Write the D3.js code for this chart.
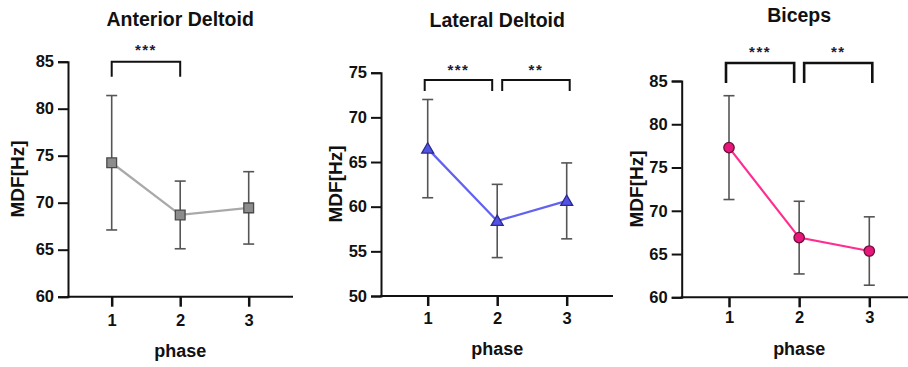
<!DOCTYPE html>
<html>
<head>
<meta charset="utf-8">
<script src="https://cdn.jsdelivr.net/npm/d3@7"></script>
<style>
  body { margin: 0; background: #fff; }
  svg text { font-family: "Liberation Sans", Arial, sans-serif; font-weight: bold; }
</style>
</head>
<body>
<svg id="chart" width="908" height="367"></svg>
<script>
// data
const phases = [1, 2, 3];
const muscles = ["Anterior Deltoid", "Lateral Deltoid", "Biceps"];
const anteriorMean = [74.25, 68.7, 69.45];
const anteriorSD = [7.15, 3.6, 3.85];
const lateralMean = [66.5, 58.4, 60.65];
const lateralSD = [5.5, 4.1, 4.25];
const bicepsMean = [77.3, 66.9, 65.35];
const bicepsSD = [6.0, 4.2, 3.95];
const anteriorTicks = [60, 65, 70, 75, 80, 85];
const lateralTicks = [50, 55, 60, 65, 70, 75];
const bicepsTicks = [60, 65, 70, 75, 80, 85];
const anteriorSig = [[1, 2, "***"]];
const lateralSig = [[1, 2, "***"], [2, 3, "**"]];
const bicepsSig = [[1, 2, "***"], [2, 3, "**"]];

// layout per panel
const panels = [
  {title: muscles[0], mean: anteriorMean, sd: anteriorSD, ticks: anteriorTicks, sig: anteriorSig,
   ax: 68, axEnd: 293, yTop: 61.7, yBot: 296.7, x1: 111.7, x3: 248.7,
   titleY: 26, tickLabY: 326.5, phaseY: 357, ylabX: 24, ylabY: 179,
   brTop: 61.7, brLeg: 15, starY: 55, brW: 2,
   line: "#a9a9a9", fill: "#8c8c8c", stroke: "#4a4a4a", shape: "square"},
  {title: muscles[1], mean: lateralMean, sd: lateralSD, ticks: lateralTicks, sig: lateralSig,
   ax: 381, axEnd: 613, yTop: 72.7, yBot: 296, x1: 427.7, x3: 566.7,
   titleY: 26.5, tickLabY: 323.5, phaseY: 355, ylabX: 342, ylabY: 184,
   brTop: 80, brLeg: 11, starY: 74.5, brW: 2,
   line: "#6262f2", fill: "#5252e6", stroke: "#2a2a90", shape: "triangle"},
  {title: muscles[2], mean: bicepsMean, sd: bicepsSD, ticks: bicepsTicks, sig: bicepsSig,
   ax: 681.7, axEnd: 908, yTop: 81, yBot: 297.3, x1: 729, x3: 869.3,
   titleY: 21.5, tickLabY: 323.5, phaseY: 355, ylabX: 643, ylabY: 189,
   brTop: 63, brLeg: 20, starY: 56.5, brW: 2.6,
   line: "#ff2d8f", fill: "#e8157a", stroke: "#6a1038", shape: "circle"}
];

const svg = d3.select("#chart");

panels.forEach(p => {
  const g = svg.append("g");
  const x = d3.scaleLinear().domain([1, 3]).range([p.x1, p.x3]);
  const y = d3.scaleLinear().domain(d3.extent(p.ticks)).range([p.yBot, p.yTop]);

  // y axis
  const yAxis = g.append("g")
      .attr("transform", `translate(${p.ax},0)`)
      .call(d3.axisLeft(y).tickValues(p.ticks).tickSize(10).tickPadding(4));
  yAxis.select(".domain").attr("stroke", "#111").attr("stroke-width", 2);
  yAxis.selectAll(".tick line").attr("stroke", "#111").attr("stroke-width", 2);
  yAxis.selectAll(".tick text").attr("font-size", 16.5).attr("fill", "#111");

  // x axis
  const xAxis = g.append("g")
      .attr("transform", `translate(0,${p.yBot})`)
      .call(d3.axisBottom(x).tickValues(phases).tickSize(10).tickFormat(d3.format("d")));
  xAxis.select(".domain").remove();
  xAxis.selectAll(".tick line").attr("stroke", "#111").attr("stroke-width", 2.5);
  xAxis.selectAll(".tick text")
      .attr("font-size", 16.5).attr("fill", "#111")
      .attr("dy", null).attr("y", p.tickLabY - p.yBot);
  g.append("line")
      .attr("x1", p.ax - 1).attr("x2", p.axEnd)
      .attr("y1", p.yBot).attr("y2", p.yBot)
      .attr("stroke", "#111").attr("stroke-width", 2);

  // titles
  g.append("text").attr("x", x(2)).attr("y", p.titleY)
      .attr("text-anchor", "middle").attr("font-size", 19.5).attr("fill", "#111")
      .text(p.title);
  g.append("text").attr("x", x(2)).attr("y", p.phaseY)
      .attr("text-anchor", "middle").attr("font-size", 18).attr("fill", "#111")
      .text("phase");
  g.append("text")
      .attr("transform", `translate(${p.ylabX},${p.ylabY}) rotate(-90)`)
      .attr("text-anchor", "middle").attr("font-size", 19).attr("fill", "#111")
      .text("MDF[Hz]");

  const pts = phases.map((ph, i) => ({ph: ph, m: p.mean[i], sd: p.sd[i]}));

  // connecting line
  g.append("path")
      .datum(pts)
      .attr("d", d3.line().x(d => x(d.ph)).y(d => y(d.m)))
      .attr("fill", "none").attr("stroke", p.line).attr("stroke-width", 2.2);

  // error bars
  const eb = g.selectAll(".eb").data(pts).join("g").attr("class", "eb")
      .attr("stroke", "#555").attr("stroke-width", 1.6);
  eb.append("line").attr("x1", d => x(d.ph)).attr("x2", d => x(d.ph))
      .attr("y1", d => y(d.m + d.sd)).attr("y2", d => y(d.m - d.sd));
  eb.append("line").attr("x1", d => x(d.ph) - 5.5).attr("x2", d => x(d.ph) + 5.5)
      .attr("y1", d => y(d.m + d.sd)).attr("y2", d => y(d.m + d.sd));
  eb.append("line").attr("x1", d => x(d.ph) - 5.5).attr("x2", d => x(d.ph) + 5.5)
      .attr("y1", d => y(d.m - d.sd)).attr("y2", d => y(d.m - d.sd));

  // markers
  const sym = p.shape === "square" ? d3.symbolSquare : p.shape === "triangle" ? d3.symbolTriangle : d3.symbolCircle;
  const size = p.shape === "square" ? 95 : p.shape === "triangle" ? 62 : 85;
  g.selectAll(".mk").data(pts).join("path").attr("class", "mk")
      .attr("transform", d => `translate(${x(d.ph)},${y(d.m) + (p.shape === "triangle" ? 1 : 0)})`)
      .attr("d", d3.symbol().type(sym).size(size))
      .attr("fill", p.fill).attr("stroke", p.stroke).attr("stroke-width", 1.3);

  // significance brackets
  p.sig.forEach(s => {
    const shared = p.sig.length > 1;
    let xa = x(s[0]), xb = x(s[1]);
    if (shared && s[1] === 2) { xa -= 3; xb -= 5; }
    if (shared && s[0] === 2) { xa += 5; xb += 3; }
    g.append("path")
        .attr("d", `M${xa},${p.brTop + p.brLeg}V${p.brTop}H${xb}V${p.brTop + p.brLeg}`)
        .attr("fill", "none").attr("stroke", "#111").attr("stroke-width", p.brW);
    g.append("text").attr("x", (xa + xb) / 2).attr("y", p.starY)
        .attr("text-anchor", "middle").attr("font-size", 15).attr("letter-spacing", 1.5)
        .attr("fill", "#1c2033").text(s[2]);
  });
});
</script>
</body>
</html>
